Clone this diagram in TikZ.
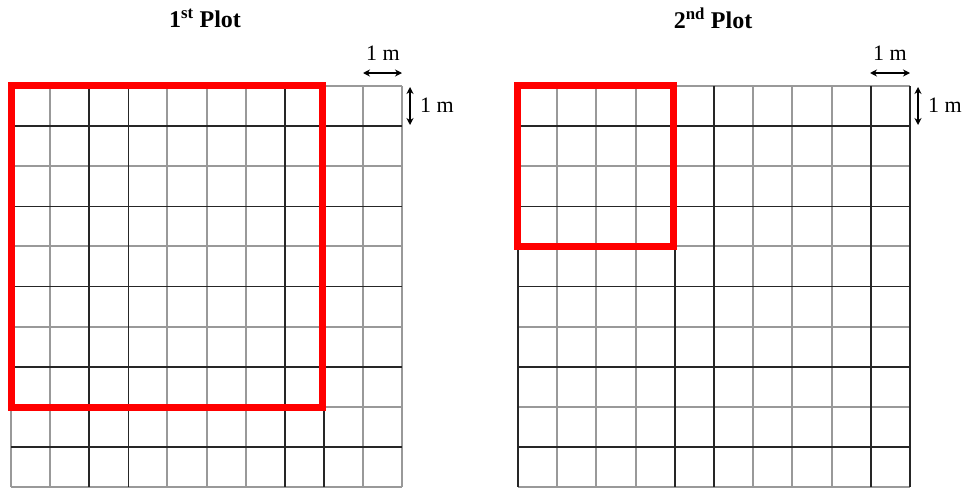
\documentclass[tikz,border=0pt]{standalone}
\usepackage{fontspec}
\setmainfont{Liberation Serif}
\usetikzlibrary{arrows.meta}
\tikzset{
  gl/.style={draw=black!40, line width=2pt},
  bl/.style={draw=black!85, line width=1.6pt},
  redbox/.style={draw=red, line width=6.5pt},
  dim/.style={{Stealth[length=7pt,width=7pt]}-{Stealth[length=7pt,width=7pt]}, line width=1.6pt},
  ttl/.style={font=\bfseries\fontsize{24}{28}\selectfont},
  lbl/.style={font=\fontsize{22}{26}\selectfont, inner sep=0pt}
}
\begin{document}
\begin{tikzpicture}[x=1pt,y=-1pt]
\useasboundingbox (0,0) rectangle (967,490);
% ---- left grid ----
\foreach \i in {0,1,4,5,6,9,10} \draw[gl] ({11+39.1*\i},86) -- ({11+39.1*\i},487);
\foreach \i in {0,2,4,6,8,10} \draw[gl] (11,{86+40.1*\i}) -- (402,{86+40.1*\i});
\foreach \i in {2,3,7,8} \draw[bl] ({11+39.1*\i},86) -- ({11+39.1*\i},487);
\foreach \i in {1,3,5,7,9} \draw[bl] (11,{86+40.1*\i}) -- (402,{86+40.1*\i});
\draw[redbox] (11.5,85.5) rectangle (322.5,407.5);
% ---- right grid ----
\foreach \i in {1,2,3,6,7,8} \draw[gl] ({518+39.2*\i},86) -- ({518+39.2*\i},487);
\foreach \i in {0,2,4,6,8,10} \draw[gl] (518,{86+40.1*\i}) -- (910,{86+40.1*\i});
\foreach \i in {0,4,5,9,10} \draw[bl] ({518+39.2*\i},86) -- ({518+39.2*\i},487);
\foreach \i in {1,3,5,7,9} \draw[bl] (518,{86+40.1*\i}) -- (910,{86+40.1*\i});
\draw[redbox] (517.5,85.5) rectangle (673.5,246.5);
% ---- titles ----
\node[ttl] (t1) at (205,18) {1\textsuperscript{st} Plot};
\node[ttl] (t2) at (713,18) {2\textsuperscript{nd} Plot};
% ---- dimension marks, left ----
\coordinate (a1) at (363,73); \coordinate (a2) at (402,73);
\draw[dim] (a1) -- (a2);
\node[lbl] (h1) at (383,53) {1 m};
\coordinate (b1) at (410,87); \coordinate (b2) at (410,125);
\draw[dim] (b1) -- (b2);
\node[lbl, anchor=west] (v1) at (420,105) {1 m};
% ---- dimension marks, right ----
\coordinate (c1) at (870,73); \coordinate (c2) at (910,73);
\draw[dim] (c1) -- (c2);
\node[lbl] (h2) at (890,53) {1 m};
\coordinate (d1) at (918,87); \coordinate (d2) at (918,125);
\draw[dim] (d1) -- (d2);
\node[lbl, anchor=west] (v2) at (928,105) {1 m};
\end{tikzpicture}
\end{document}
